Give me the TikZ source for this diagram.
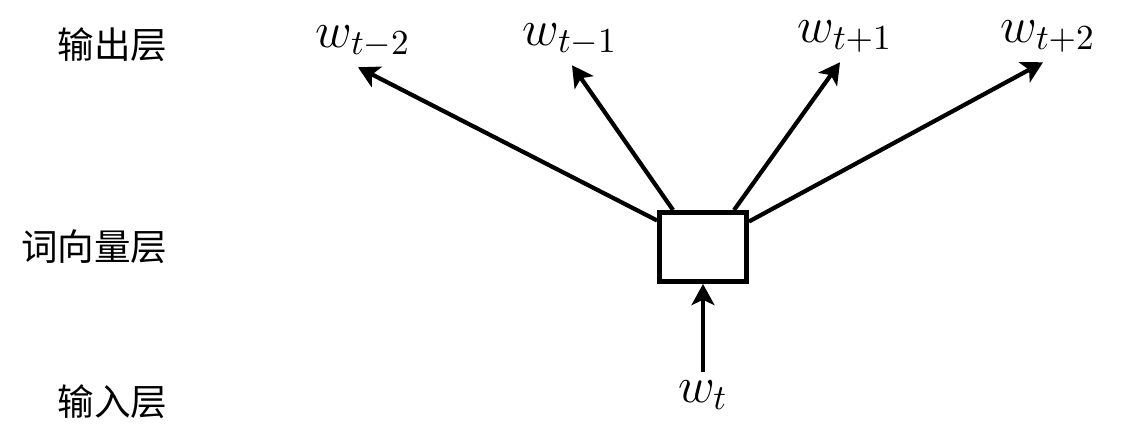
\documentclass[tikz,border=0pt]{standalone}
\usepackage{fontspec}
\newfontfamily\cjk{Noto Sans CJK SC}
\usetikzlibrary{arrows.meta}
\tikzset{
  layer/.style={anchor=east, inner sep=0pt, font=\cjk\fontsize{10.4}{13}\selectfont},
  word/.style={anchor=base, font=\Large, inner sep=2pt},
  link/.style={-{Stealth[length=6pt, width=6.5pt, inset=1.5pt]}, line width=1.2pt}
}
\begin{document}
\begin{tikzpicture}
        \useasboundingbox (0,0) rectangle (11.28,4.32);

        \node[layer] (output) at (1.68,3.87) {输出层};
        \node[layer] (embedding) at (1.68,1.85) {词向量层};
        \node[layer] (input) at (1.68,0.30) {输入层};

        \node[rectangle, draw, line width=1.4pt, minimum width=0.87cm,
             minimum height=0.69cm] (hidden) at (7.03,1.85) {};

        \node[word] (w-t) at (7.03,0.30) {$w_t$};
        \node[word] (w-tm2) at (3.63,3.85) {$w_{t-2}$};
        \node[word] (w-tm1) at (5.70,3.87) {$w_{t-1}$};
        \node[word] (w-tp1) at (8.45,3.90) {$w_{t+1}$};
        \node[word] (w-tp2) at (10.48,3.90) {$w_{t+2}$};

        \draw[link] (w-t) to (hidden);
        \draw[link] (hidden.150) to ([shift={(-0.05,-0.02)}]w-tm2.south);
        \draw[link] (hidden.129) to ([shift={(0.02,-0.02)}]w-tm1.south);
        \draw[link] (hidden.50) to ([shift={(-0.05,-0.02)}]w-tp1.south);
        \draw[link] (hidden.29) to ([shift={(-0.05,-0.02)}]w-tp2.south);
\end{tikzpicture}
\end{document}
